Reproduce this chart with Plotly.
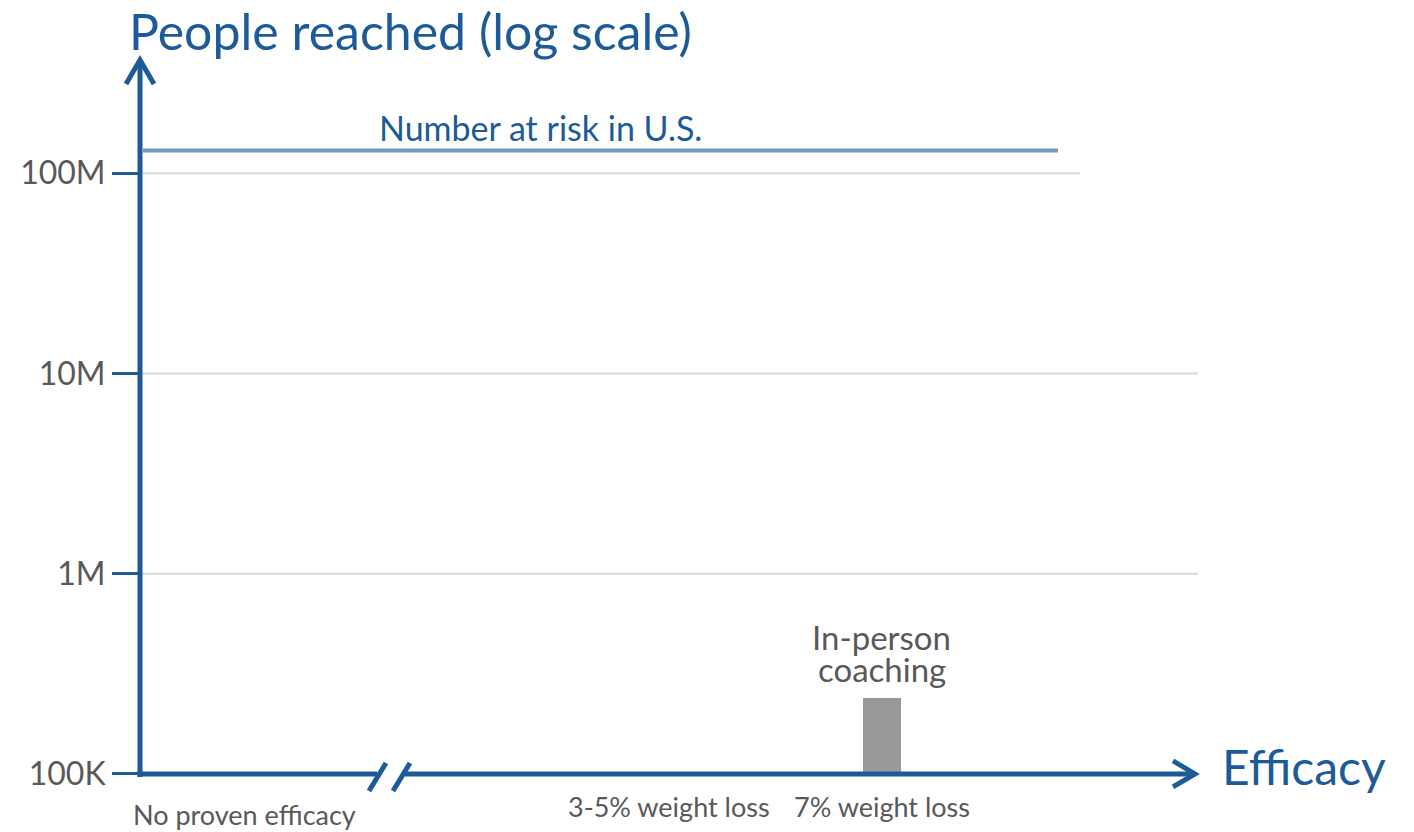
import math
import plotly.graph_objects as go

# ---- data -------------------------------------------------------------
categories = ["No proven efficacy", "3-5% weight loss", "7% weight loss"]
category_pos = [0, 2, 3]                 # gap between 0 and 2 marks the axis break
programs = ["In-person coaching"]
program_pos = [3]
program_reach = [240_000]
at_risk_label = "Number at risk in U.S."
at_risk_us = 130_000_000
tick_vals = [1e5, 1e6, 1e7, 1e8]
tick_text = ["100K", "1M", "10M", "100M"]

# ---- page geometry ----------------------------------------------------
W, H = 1414, 832
H_VIEW = 813                            # drawable height used for paper mapping
BLUE = "#1C5A98"
LINE_BLUE = "#7299C3"
GRID = "#D9D9D9"
GRAY_TEXT = "#595959"
BAR_GRAY = "#999999"
FONT = "Lato"

ORIGIN_X, ORIGIN_Y = 140, 773           # where the two axes meet
X_UNIT = 212.5                          # pixels per efficacy step
X_ZERO = 244                            # pixel column of the first category
PX_PER_DECADE = 200


def px(x):
    return x / W


def py(y):
    return 1 - y / H_VIEW


y_lo = 5.0
y_hi = y_lo + ORIGIN_Y / PX_PER_DECADE
x_lo = (0 - X_ZERO) / X_UNIT
x_hi = (W - X_ZERO) / X_UNIT

fig = go.Figure()

fig.add_trace(go.Bar(
    x=program_pos, y=program_reach, width=38 / X_UNIT,
    marker=dict(color=BAR_GRAY, line=dict(width=0)),
    hovertext=programs, hoverinfo="text+y", showlegend=False,
))

shapes = []

# horizontal gridlines (the top one is shorter)
for v in tick_vals[1:]:
    x_end = 1080 if v == tick_vals[-1] else 1198
    shapes.append(dict(type="line", xref="paper", yref="y",
                       x0=px(ORIGIN_X), x1=px(x_end), y0=v, y1=v,
                       line=dict(color=GRID, width=2), layer="below"))

# population at risk
shapes.append(dict(type="line", xref="paper", yref="y",
                   x0=px(143), x1=px(1058), y0=at_risk_us, y1=at_risk_us,
                   line=dict(color=LINE_BLUE, width=4)))

axis_line = dict(color=BLUE, width=5)
# vertical axis with arrow head
shapes.append(dict(type="line", xref="paper", yref="paper",
                   x0=px(ORIGIN_X), x1=px(ORIGIN_X), y0=py(776), y1=py(62),
                   line=axis_line))
shapes.append(dict(type="path", xref="paper", yref="paper",
                   path=f"M {px(126)} {py(84)} L {px(ORIGIN_X)} {py(60)} L {px(154)} {py(84)}",
                   line=dict(color=BLUE, width=5)))
# horizontal axis in two pieces around the break
shapes.append(dict(type="line", xref="paper", yref="paper",
                   x0=px(ORIGIN_X - 2.5), x1=px(377), y0=py(ORIGIN_Y), y1=py(ORIGIN_Y),
                   line=axis_line))
shapes.append(dict(type="line", xref="paper", yref="paper",
                   x0=px(405), x1=px(1192), y0=py(ORIGIN_Y), y1=py(ORIGIN_Y),
                   line=axis_line))
shapes.append(dict(type="path", xref="paper", yref="paper",
                   path=f"M {px(1173)} {py(760)} L {px(1195)} {py(ORIGIN_Y)} L {px(1173)} {py(786)}",
                   line=dict(color=BLUE, width=5)))
# break marks
for x_bot, x_top in [(369, 386), (393, 410)]:
    shapes.append(dict(type="line", xref="paper", yref="paper",
                       x0=px(x_bot), x1=px(x_top), y0=py(790), y1=py(762),
                       line=dict(color=BLUE, width=5)))

annotations = [
    dict(text="People reached (log scale)", xref="paper", yref="paper",
         x=px(127), y=py(31), xanchor="left", yanchor="middle", showarrow=False,
         font=dict(family=FONT, size=50, color=BLUE)),
    dict(text="Efficacy", xref="paper", yref="paper",
         x=px(1220), y=py(766), xanchor="left", yanchor="middle", showarrow=False,
         font=dict(family=FONT, size=48, color=BLUE)),
    dict(text=at_risk_label, xref="paper", yref="y",
         x=px(540), y=math.log10(at_risk_us), xanchor="center", yanchor="bottom",
         yshift=0, showarrow=False,
         font=dict(family=FONT, size=34, color=BLUE)),
]

# program label above its bar, one line at a time for tight leading
for pos, reach, name in zip(program_pos, program_reach, programs):
    first, second = name.split(" ", 1)
    annotations.append(dict(text=second, x=pos, y=math.log10(reach), xref="x", yref="y",
                            xanchor="center", yanchor="middle", yshift=29, showarrow=False,
                            font=dict(family=FONT, size=33, color=GRAY_TEXT)))
    annotations.append(dict(text=first, x=pos, y=math.log10(reach), xref="x", yref="y",
                            xanchor="center", yanchor="middle", yshift=61, showarrow=False,
                            font=dict(family=FONT, size=33, color=GRAY_TEXT)))

# category labels under the efficacy axis
for pos, cat in zip(category_pos, categories):
    y_text = 813 if pos == 0 else 806
    annotations.append(dict(text=cat, x=pos, y=py(y_text), xref="x", yref="paper",
                            xanchor="center", yanchor="middle", showarrow=False,
                            font=dict(family=FONT, size=27, color=GRAY_TEXT)))

fig.update_layout(
    width=W, height=H,
    margin=dict(l=0, r=0, t=0, b=0),
    paper_bgcolor="white", plot_bgcolor="white",
    font=dict(family=FONT, color=GRAY_TEXT),
    xaxis=dict(range=[x_lo, x_hi], domain=[0, 1], visible=False, fixedrange=True),
    yaxis=dict(type="log", range=[y_lo, y_hi], domain=[py(ORIGIN_Y), 1],
               anchor="free", position=px(ORIGIN_X),
               tickvals=tick_vals, ticktext=tick_text,
               ticks="outside", ticklen=28, tickwidth=2.5, tickcolor=BLUE,
               tickfont=dict(family=FONT, size=32, color=GRAY_TEXT),
               showgrid=False, zeroline=False, showline=False, fixedrange=True),
    shapes=shapes,
    annotations=annotations,
    bargap=0,
)

fig.write_html("out.html")
